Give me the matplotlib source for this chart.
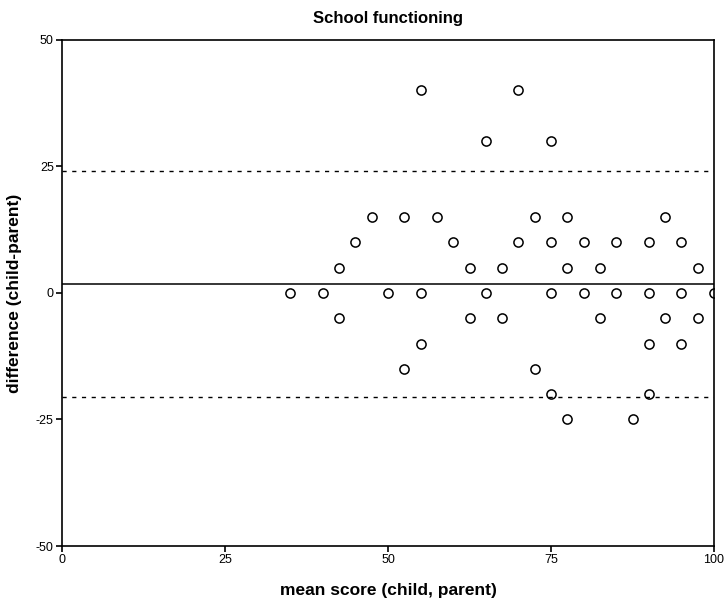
import matplotlib
matplotlib.use("Agg")
import matplotlib.pyplot as plt
import numpy as np

plt.rcParams["font.family"] = ["Liberation Sans", "DejaVu Sans"]
plt.rcParams["axes.unicode_minus"] = False

# mean score (child, parent) and difference (child - parent), one pair per child
mean_score = [55, 70,
              65, 75,
              47.5, 52.5, 57.5, 72.5, 77.5, 92.5,
              45, 60, 70, 75, 80, 85, 90, 95,
              42.5, 62.5, 67.5, 77.5, 82.5, 97.5,
              35, 40, 50, 55, 65, 75, 80, 85, 90, 95, 100,
              42.5, 62.5, 67.5, 82.5, 92.5, 97.5,
              55, 90, 95,
              52.5, 72.5,
              75, 90,
              77.5, 87.5]
difference = [40, 40,
              30, 30,
              15, 15, 15, 15, 15, 15,
              10, 10, 10, 10, 10, 10, 10, 10,
              5, 5, 5, 5, 5, 5,
              0, 0, 0, 0, 0, 0, 0, 0, 0, 0, 0,
              -5, -5, -5, -5, -5, -5,
              -10, -10, -10,
              -15, -15,
              -20, -20,
              -25, -25]

# mean difference and limits of agreement
mean_diff = 1.8
upper_loa = 24.1
lower_loa = -20.5

x_ticks = [0, 25, 50, 75, 100]
y_ticks = [-50, -25, 0, 25, 50]


def main():
  fig = plt.figure(figsize=(7.28, 6.04), dpi=100)
  ax = fig.add_axes([0.0852, 0.096, 0.8956, 0.838])

  ax.plot(mean_score, difference, linestyle="None", marker="o", mfc="none",
          mec="black", ms=6.6, mew=1.1, zorder=3)

  ax.axhline(mean_diff, color="black", lw=1.1)
  ax.axhline(upper_loa, color="black", lw=1.0, linestyle=(0, (3, 4)))
  ax.axhline(lower_loa, color="black", lw=1.0, linestyle=(0, (3, 4)))

  ax.set_xlim(0, 100)
  ax.set_ylim(-50, 50)
  ax.set_xticks(x_ticks)
  ax.set_yticks(y_ticks)
  ax.tick_params(direction="out", length=4.5, width=1.2, labelsize=9, pad=1.5,
                 top=False, right=False)
  for s in ax.spines.values():
    s.set_linewidth(1.2)

  ax.set_title("School functioning", fontsize=12, fontweight="bold", pad=12)
  ax.set_xlabel("mean score (child, parent)", fontsize=12.5, fontweight="bold", labelpad=12)
  ax.set_ylabel("difference (child-parent)", fontsize=12.5, fontweight="bold", labelpad=10)

  fig.savefig("out.png", dpi=100)
  plt.close(fig)


if __name__ == "__main__":
  main()
